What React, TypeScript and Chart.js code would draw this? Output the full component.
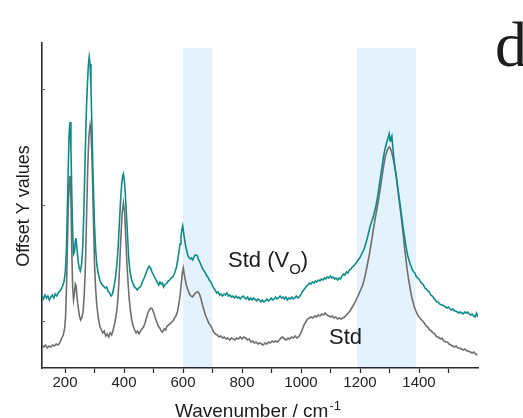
import React, { useEffect, useRef } from 'react';
import { Chart, registerables } from 'chart.js';

Chart.register(...registerables);

// Raman spectra of the hematite standard: [wavenumber (cm-1), offset intensity (a.u.)]
const stdSpectrum: [number, number][] = [
  [122, 23], [128, 21], [134, 23], [140, 20], [146, 22], [152, 21], [158, 23], [164, 22], [170, 24], [176, 23],
  [182, 25], [188, 29], [194, 33], [199, 40], [202, 52], [205, 80], [208, 120], [211, 160], [214, 185], [217, 192],
  [220, 170], [223, 118], [226, 80], [229, 68], [232, 74], [235, 84], [238, 82], [241, 70], [245, 60], [249, 52],
  [253, 48], [257, 50], [261, 56], [265, 72], [269, 100], [273, 150], [277, 200], [281, 232], [285, 243], [288, 236],
  [291, 214], [294, 180], [297, 140], [300, 104], [304, 78], [308, 62], [313, 50], [318, 42], [323, 38], [328, 35],
  [333, 37], [338, 32], [343, 34], [348, 31], [353, 35], [358, 33], [363, 38], [368, 44], [373, 52], [378, 64],
  [382, 82], [386, 108], [390, 135], [394, 156], [398, 165], [402, 156], [406, 130], [410, 104], [414, 84], [418, 68],
  [422, 57], [426, 48], [431, 42], [436, 38], [441, 35], [446, 37], [451, 34], [456, 37], [461, 39], [466, 41],
  [471, 45], [476, 50], [481, 55], [486, 58], [491, 60], [496, 59], [501, 55], [506, 50], [511, 46], [516, 42],
  [521, 40], [526, 37], [531, 36], [536, 39], [541, 38], [546, 42], [551, 43], [556, 44], [561, 46], [566, 47],
  [571, 50], [576, 52], [581, 56], [586, 64], [590, 72], [594, 84], [598, 96], [601, 100], [604, 94], [608, 88],
  [612, 82], [617, 78], [622, 74], [627, 72], [632, 71], [637, 73], [642, 75], [647, 76], [652, 76], [657, 73],
  [662, 68], [667, 62], [672, 57], [677, 52], [682, 49], [687, 45], [692, 43], [698, 40], [704, 36], [710, 34],
  [716, 33], [722, 31], [728, 32], [734, 30], [740, 31], [746, 29], [752, 30], [758, 28], [764, 30], [770, 29],
  [776, 28], [782, 30], [788, 29], [794, 31], [800, 29], [806, 31], [812, 30], [818, 28], [824, 29], [830, 26],
  [836, 27], [842, 25], [848, 26], [854, 24], [860, 25], [866, 24], [872, 23], [878, 25], [884, 24], [890, 26],
  [896, 25], [902, 27], [908, 26], [914, 27], [920, 26], [926, 28], [932, 30], [938, 31], [944, 29], [950, 28],
  [956, 30], [962, 29], [968, 31], [974, 30], [980, 32], [986, 30], [992, 31], [998, 34], [1004, 38], [1010, 43],
  [1016, 46], [1022, 49], [1028, 50], [1034, 51], [1040, 50], [1046, 52], [1052, 51], [1058, 53], [1064, 52], [1070, 54],
  [1076, 53], [1082, 55], [1088, 53], [1094, 52], [1100, 51], [1106, 52], [1112, 50], [1118, 51], [1124, 49], [1130, 50],
  [1136, 49], [1142, 50], [1148, 51], [1154, 53], [1160, 55], [1166, 57], [1172, 60], [1178, 63], [1184, 66], [1190, 70],
  [1196, 74], [1202, 78], [1208, 82], [1214, 88], [1220, 96], [1226, 105], [1232, 114], [1238, 125], [1244, 136], [1250, 147],
  [1256, 157], [1262, 167], [1268, 178], [1274, 190], [1280, 202], [1286, 212], [1292, 217], [1296, 220], [1300, 221], [1304, 219],
  [1308, 215], [1312, 210], [1316, 204], [1320, 197], [1324, 189], [1328, 179], [1332, 169], [1336, 160], [1340, 150], [1344, 140],
  [1348, 129], [1352, 118], [1356, 108], [1360, 98], [1364, 90], [1368, 83], [1372, 76], [1376, 70], [1380, 66], [1384, 61],
  [1388, 58], [1394, 54], [1400, 51], [1406, 49], [1412, 47], [1418, 45], [1424, 42], [1430, 41], [1436, 38], [1442, 37],
  [1448, 35], [1454, 34], [1460, 31], [1466, 31], [1472, 29], [1478, 30], [1484, 27], [1490, 26], [1496, 26], [1502, 24],
  [1508, 23], [1514, 22], [1520, 21], [1526, 22], [1532, 20], [1538, 20], [1544, 19], [1550, 18], [1556, 19], [1562, 17],
  [1568, 17], [1574, 16], [1580, 15], [1586, 16], [1592, 14], [1598, 13],
];

// Oxygen-vacancy sample, Std (VO)
const voSpectrum: [number, number][] = [
  [122, 72], [127, 69], [132, 73], [137, 70], [142, 72], [147, 68], [152, 71], [157, 73], [162, 70], [167, 74],
  [172, 72], [177, 75], [182, 77], [187, 79], [192, 82], [197, 87], [201, 96], [205, 120], [208, 160], [211, 200],
  [214, 235], [217, 246], [220, 220], [223, 175], [226, 135], [229, 114], [232, 116], [235, 127], [237, 130], [240, 121],
  [244, 108], [248, 100], [252, 97], [256, 103], [260, 120], [264, 158], [267, 195], [270, 230], [273, 262], [276, 284],
  [279, 302], [282, 311], [285, 304], [288, 280], [291, 245], [294, 205], [297, 172], [300, 142], [304, 118], [308, 103],
  [313, 94], [318, 88], [324, 84], [330, 82], [336, 80], [341, 81], [346, 77], [351, 75], [356, 72], [361, 74],
  [366, 81], [371, 90], [376, 104], [380, 120], [384, 143], [388, 166], [392, 183], [395, 191], [398, 194], [401, 188],
  [404, 176], [408, 155], [412, 132], [416, 110], [420, 97], [425, 89], [430, 85], [435, 81], [440, 80], [445, 78],
  [450, 80], [455, 81], [460, 84], [465, 88], [470, 91], [475, 95], [480, 99], [485, 102], [490, 100], [495, 96],
  [500, 93], [505, 90], [510, 87], [514, 85], [518, 83], [522, 86], [526, 84], [530, 85], [534, 81], [538, 83],
  [542, 84], [546, 85], [550, 87], [555, 88], [560, 90], [565, 91], [570, 94], [574, 97], [578, 101], [582, 108],
  [586, 116], [590, 124], [593, 131], [596, 138], [599, 142], [602, 136], [605, 129], [609, 122], [613, 117], [617, 112],
  [621, 110], [625, 109], [629, 110], [633, 108], [637, 111], [641, 113], [645, 113], [649, 112], [653, 108], [657, 106],
  [661, 103], [665, 100], [669, 98], [674, 96], [679, 93], [684, 91], [689, 88], [694, 86], [699, 83], [704, 80],
  [709, 78], [714, 75], [719, 76], [724, 73], [729, 74], [734, 72], [739, 74], [744, 73], [749, 75], [754, 72],
  [759, 73], [764, 71], [769, 72], [774, 70], [779, 72], [784, 70], [789, 71], [794, 69], [799, 71], [804, 72],
  [809, 70], [814, 69], [819, 71], [824, 68], [829, 70], [834, 68], [839, 70], [844, 69], [849, 67], [854, 69],
  [859, 68], [864, 66], [869, 68], [874, 66], [879, 67], [884, 69], [889, 67], [894, 68], [899, 70], [904, 68],
  [909, 69], [914, 71], [919, 69], [924, 70], [929, 72], [934, 70], [939, 71], [944, 69], [949, 71], [954, 68],
  [959, 70], [964, 69], [969, 71], [974, 69], [979, 70], [984, 72], [989, 70], [994, 71], [999, 73], [1004, 76],
  [1009, 78], [1014, 80], [1019, 82], [1024, 83], [1029, 85], [1034, 84], [1039, 86], [1044, 85], [1049, 87], [1054, 86],
  [1059, 88], [1064, 87], [1069, 89], [1074, 88], [1079, 90], [1084, 89], [1089, 91], [1094, 90], [1099, 92], [1104, 90],
  [1109, 91], [1114, 89], [1119, 90], [1124, 88], [1129, 90], [1134, 89], [1139, 92], [1144, 94], [1149, 93], [1154, 96],
  [1159, 95], [1164, 98], [1169, 99], [1174, 101], [1179, 102], [1184, 104], [1189, 106], [1194, 108], [1199, 110], [1204, 113],
  [1209, 116], [1214, 119], [1219, 124], [1224, 129], [1229, 135], [1234, 141], [1239, 146], [1244, 150], [1249, 156], [1254, 162],
  [1259, 170], [1264, 180], [1269, 190], [1274, 200], [1279, 210], [1284, 218], [1289, 224], [1293, 228], [1296, 231], [1299, 234],
  [1302, 227], [1305, 230], [1308, 232], [1311, 222], [1314, 212], [1318, 202], [1322, 194], [1326, 185], [1330, 176], [1334, 168],
  [1338, 159], [1342, 150], [1346, 141], [1350, 133], [1354, 125], [1358, 118], [1362, 112], [1366, 108], [1370, 104], [1374, 101],
  [1378, 98], [1382, 96], [1386, 95], [1390, 92], [1395, 90], [1400, 89], [1405, 86], [1410, 85], [1415, 83], [1420, 80],
  [1425, 79], [1430, 77], [1435, 76], [1440, 73], [1445, 72], [1450, 70], [1455, 68], [1460, 66], [1465, 66], [1470, 64],
  [1475, 63], [1480, 63], [1485, 62], [1490, 61], [1495, 60], [1500, 61], [1505, 59], [1510, 58], [1515, 59], [1520, 57],
  [1525, 57], [1530, 56], [1535, 55], [1540, 56], [1545, 55], [1550, 54], [1555, 56], [1560, 55], [1565, 56], [1570, 54],
  [1575, 53], [1580, 54], [1585, 52], [1590, 51], [1595, 55], [1600, 51],
];

// Highlighted wavenumber bands (cm-1)
const bands: [number, number][] = [
  [600, 700],
  [1190, 1390],
];

// x tick marks every 100 cm-1, labelled every 200
const xTicks = [200, 300, 400, 500, 600, 700, 800, 900, 1000, 1100, 1200, 1300, 1400, 1500];
// small inner tick marks on the offset axis
const yTicks = [47, 163, 279];

const X_MIN = 122;
const X_MAX = 1600;
const Y_MAX = 325;
const BAND_TOP = 320;

const SANS = '"Liberation Sans", Arial, Helvetica, sans-serif';
const INK = '#1c1c1c';
const AXIS = '#2b2b2b';

const decorPlugin = {
  id: 'decor',
  beforeDraw(chart: any) {
    const { ctx, chartArea, scales } = chart;
    const xs = scales.x;
    const ys = scales.y;
    ctx.save();
    ctx.fillStyle = '#e4f2fd';
    const top = ys.getPixelForValue(BAND_TOP);
    for (const [a, b] of bands) {
      const x1 = xs.getPixelForValue(a);
      const x2 = xs.getPixelForValue(b);
      ctx.fillRect(x1, top, x2 - x1, chartArea.bottom - top);
    }
    ctx.restore();
  },
  afterDraw(chart: any) {
    const { ctx, chartArea, scales } = chart;
    const ys = scales.y;
    ctx.save();
    // inner ticks on the left axis
    ctx.strokeStyle = '#555';
    ctx.lineWidth = 1;
    for (const v of yTicks) {
      const y = Math.round(ys.getPixelForValue(v)) + 0.5;
      ctx.beginPath();
      ctx.moveTo(chartArea.left, y);
      ctx.lineTo(chartArea.left + 3, y);
      ctx.stroke();
    }

    ctx.fillStyle = INK;
    ctx.textBaseline = 'alphabetic';
    ctx.textAlign = 'left';

    // series labels
    ctx.font = `22px ${SANS}`;
    const main = 'Std (V';
    ctx.fillText(main, 228, 267);
    let x = 228 + ctx.measureText(main).width;
    ctx.font = `15px ${SANS}`;
    ctx.fillText('O', x, 274);
    x += ctx.measureText('O').width;
    ctx.font = `22px ${SANS}`;
    ctx.fillText(')', x, 267);

    ctx.fillText('Std', 329, 344);

    // x axis title
    ctx.font = `19px ${SANS}`;
    const xt = 'Wavenumber / cm';
    ctx.fillText(xt, 175, 417);
    const xw = ctx.measureText(xt).width;
    ctx.font = `13px ${SANS}`;
    ctx.fillText('-1', 175 + xw + 1, 410);

    // y axis title
    ctx.save();
    ctx.translate(29, 206);
    ctx.rotate(-Math.PI / 2);
    ctx.font = `18px ${SANS}`;
    ctx.textAlign = 'center';
    ctx.fillText('Offset Y values', 0, 0);
    ctx.restore();

    // panel letter
    ctx.font = '64px "Liberation Serif", "Times New Roman", serif';
    ctx.fillText('d', 495, 66);
    ctx.restore();
  },
};

export default function App() {
  const canvasRef = useRef<HTMLCanvasElement | null>(null);

  useEffect(() => {
    const canvas = canvasRef.current;
    if (!canvas) return;
    const chart = new Chart(canvas, {
      type: 'line',
      data: {
        datasets: [
          {
            label: 'Std (VO)',
            data: voSpectrum.map(([x, y]) => ({ x, y })),
            borderColor: '#0e8a88',
            borderWidth: 1.6,
            pointRadius: 0,
            tension: 0,
            fill: false,
          },
          {
            label: 'Std',
            data: stdSpectrum.map(([x, y]) => ({ x, y })),
            borderColor: '#6f6f6f',
            borderWidth: 1.6,
            pointRadius: 0,
            tension: 0,
            fill: false,
          },
        ],
      },
      options: {
        responsive: false,
        animation: false,
        devicePixelRatio: 1,
        layout: { padding: { top: 43, right: 45, bottom: 0, left: 0 } },
        plugins: {
          legend: { display: false },
          tooltip: { enabled: false },
          title: { display: false },
        },
        scales: {
          x: {
            type: 'linear',
            min: X_MIN,
            max: X_MAX,
            afterBuildTicks: (scale: any) => {
              scale.ticks = xTicks.map((value) => ({ value }));
            },
            afterFit: (scale: any) => {
              scale.height = 50;
            },
            grid: {
              drawOnChartArea: false,
              drawTicks: true,
              tickLength: 5,
              tickColor: AXIS,
              tickWidth: 1.2,
            },
            border: { display: true, color: AXIS, width: 1.6 },
            ticks: {
              autoSkip: false,
              maxRotation: 0,
              padding: 1,
              color: '#222',
              font: { family: SANS, size: 15 },
              callback: (v: any) => (Number(v) % 200 === 0 ? String(v) : ''),
            },
          },
          y: {
            type: 'linear',
            min: 0,
            max: Y_MAX,
            afterFit: (scale: any) => {
              scale.width = 42;
            },
            grid: { display: false, drawTicks: false },
            border: { display: true, color: AXIS, width: 1.6 },
            ticks: { display: false },
          },
        },
      },
      plugins: [decorPlugin],
    });
    return () => chart.destroy();
  }, []);

  return (
    <div style={{ position: 'fixed', left: 0, top: 0, width: 523, height: 418, background: '#fff' }}>
      <canvas ref={canvasRef} width={523} height={418} style={{ width: 523, height: 418, display: 'block' }} />
    </div>
  );
}
